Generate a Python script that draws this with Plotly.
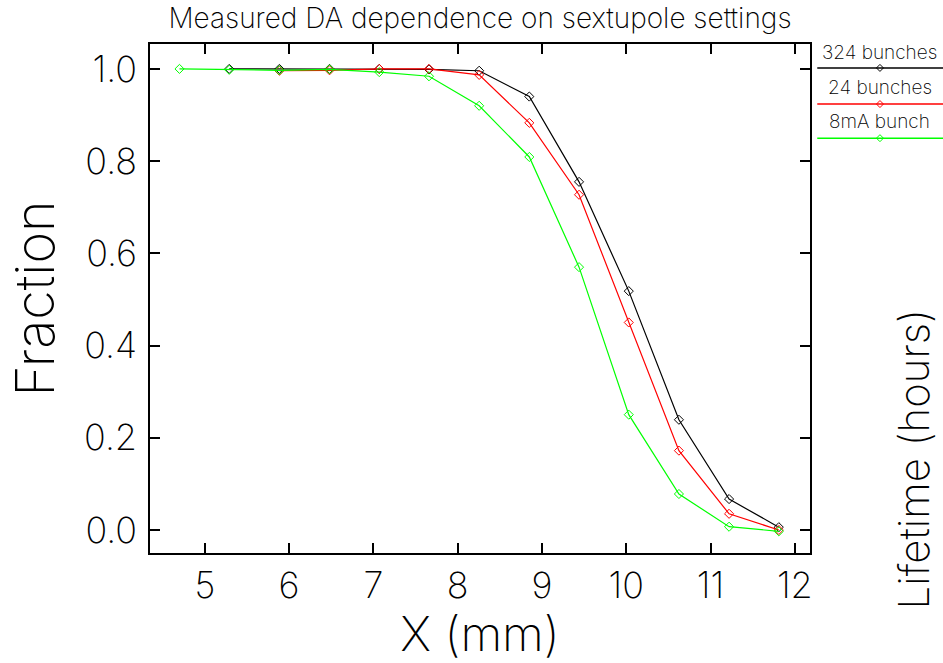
import plotly.graph_objects as go

# ---- data ----
x_324 = [5.29, 5.885, 6.48, 7.07, 7.66, 8.255, 8.85, 9.44, 10.03, 10.625, 11.22, 11.81]
f_324 = [1.0, 1.0, 1.0, 1.0, 0.999, 0.996, 0.94, 0.755, 0.518, 0.239, 0.067, 0.006]

x_24 = [5.885, 6.48, 7.07, 7.66, 8.255, 8.85, 9.44, 10.03, 10.625, 11.22, 11.81]
f_24 = [0.996, 0.997, 1.0, 1.0, 0.987, 0.883, 0.727, 0.45, 0.172, 0.035, 0.0]

x_8mA = [4.70, 5.29, 5.885, 6.48, 7.07, 7.66, 8.255, 8.85, 9.44, 10.03, 10.625, 11.22, 11.81]
f_8mA = [1.0, 0.998, 0.997, 0.999, 0.993, 0.984, 0.92, 0.809, 0.57, 0.25, 0.078, 0.007, -0.003]

series_names = ["324 bunches", "24 bunches", "8mA bunch"]
series_colors = ["#000000", "#ff0000", "#00ff00"]

x_ticks = [5, 6, 7, 8, 9, 10, 11, 12]
y_ticks = [0.0, 0.2, 0.4, 0.6, 0.8, 1.0]

FONT = "Inter"
W = 250

fig = go.Figure()
for xs, ys, name, col in zip([x_324, x_24, x_8mA], [f_324, f_24, f_8mA],
                             series_names, series_colors):
    fig.add_trace(go.Scatter(
        x=xs, y=ys, name=name, mode="lines+markers",
        line=dict(color=col, width=1.2),
        marker=dict(symbol="diamond-open", size=7, color=col, line=dict(width=1)),
        showlegend=False,
    ))

# legend drawn like the original: label above a short line with a marker
leg_text_y = [0.984, 0.9136, 0.847]
leg_line_y = [0.953, 0.882, 0.815]
for name, col, ty, ly in zip(series_names, series_colors, leg_text_y, leg_line_y):
    fig.add_annotation(text=name, xref="paper", yref="paper", x=1.106, y=ty,
                       showarrow=False,
                       font=dict(family=FONT, size=19, color="black", weight=W),
                       xanchor="center", yanchor="middle")
    fig.add_shape(type="line", xref="paper", yref="paper", x0=1.011, x1=1.205,
                  y0=ly, y1=ly, line=dict(color=col, width=1.5))
    fig.add_shape(type="path", xref="paper", yref="paper", xsizemode="pixel",
                  ysizemode="pixel", xanchor=1.106, yanchor=ly,
                  path="M0,-3.5 L3.5,0 L0,3.5 L-3.5,0 Z",
                  line=dict(color=col, width=1), fillcolor="rgba(0,0,0,0)")

fig.add_annotation(text="Lifetime (hours)", xref="paper", yref="paper", x=1.157, y=0.183,
                   textangle=-90, showarrow=False, xanchor="center", yanchor="middle",
                   font=dict(family=FONT, size=42, color="black", weight=W))

fig.update_layout(
    width=943, height=663,
    margin=dict(l=150, r=133, t=44, b=110, autoexpand=False),
    paper_bgcolor="white", plot_bgcolor="white",
    font=dict(family=FONT, color="black", weight=W),
    title=dict(text="Measured DA dependence on sextupole settings",
               x=0.5, xref="paper", xanchor="center", y=0.973, yanchor="middle",
               font=dict(family=FONT, size=28, color="black", weight=W)),
    xaxis=dict(range=[4.35, 12.18], tickvals=x_ticks, ticks="inside", ticklen=10,
               tickwidth=1.5, tickcolor="black", showline=True, linecolor="black",
               linewidth=1.5, mirror="ticks", showgrid=False, zeroline=False,
               tickfont=dict(family=FONT, size=36, weight=W), ticklabelstandoff=0,
               title=dict(text="X (mm)", font=dict(family=FONT, size=48, weight=W),
                          standoff=5)),
    yaxis=dict(range=[-0.05, 1.054], tickvals=y_ticks, tickformat=".1f", ticks="inside",
               ticklen=10, tickwidth=1.5, tickcolor="black", showline=True,
               linecolor="black", linewidth=1.5, mirror="ticks", showgrid=False,
               zeroline=False, tickfont=dict(family=FONT, size=36, weight=W),
               ticklabelstandoff=4,
               title=dict(text="Fraction", font=dict(family=FONT, size=54, weight=W),
                          standoff=12)),
)

fig.write_html("out.html", config={"displayModeBar": False},
               post_script="document.body.style.margin='0';")
